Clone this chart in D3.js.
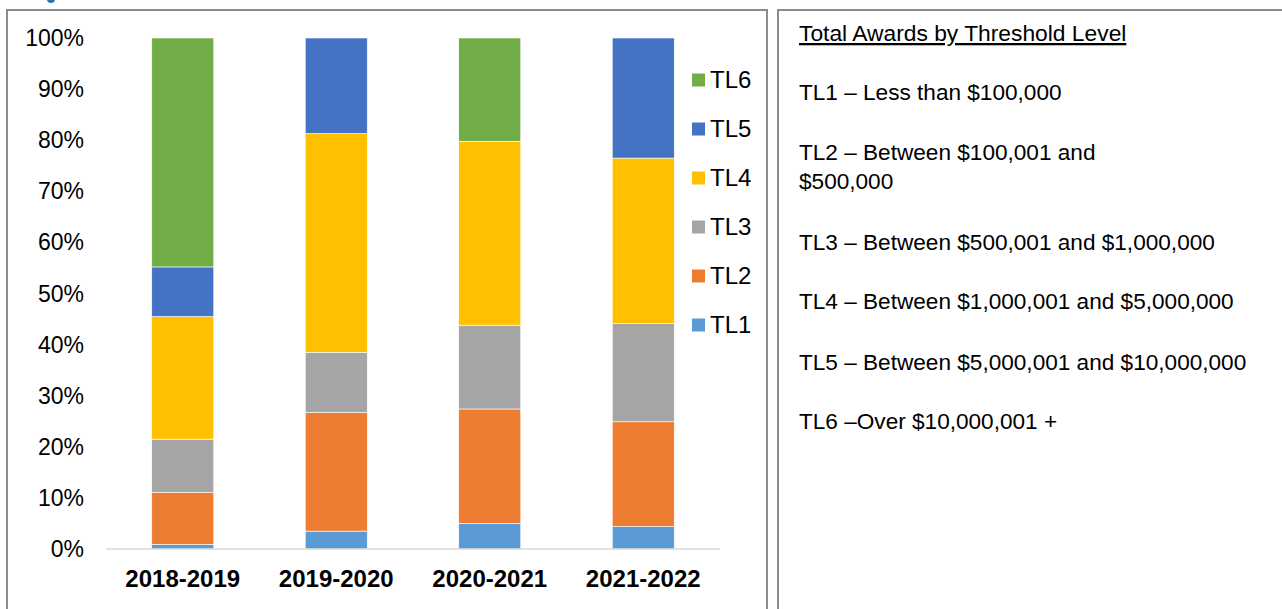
<!DOCTYPE html>
<html>
<head>
<meta charset="utf-8">
<script src="https://cdn.jsdelivr.net/npm/d3@7"></script>
<style>
  body { margin: 0; background: #fff; }
  svg { display: block; font-family: "Liberation Sans", Arial, sans-serif; }
</style>
</head>
<body>
<div id="chart"></div>
<script>
// Données (parts en %)
const years = ['2018-2019', '2019-2020', '2020-2021', '2021-2022'];
const levels = ['TL1', 'TL2', 'TL3', 'TL4', 'TL5', 'TL6'];
const tl1 = [0.9, 3.5, 5.0, 4.4];
const tl2 = [10.2, 23.2, 22.4, 20.5];
const tl3 = [10.4, 11.8, 16.4, 19.2];
const tl4 = [24.0, 42.8, 36.0, 32.4];
const tl5 = [9.7, 18.7, 0, 23.5];
const tl6 = [44.8, 0, 20.2, 0];
const yTicks = [0, 10, 20, 30, 40, 50, 60, 70, 80, 90, 100];
const colors = ['#5B9BD5', '#ED7D31', '#A5A5A5', '#FFC000', '#4472C4', '#70AD47'];
const notesTitle = 'Total Awards by Threshold Level';
const notes = [
  ['TL1 \u2013 Less than $100,000'],
  ['TL2 \u2013 Between $100,001 and', '$500,000'],
  ['TL3 \u2013 Between $500,001 and $1,000,000'],
  ['TL4 \u2013 Between $1,000,001 and $5,000,000'],
  ['TL5 \u2013 Between $5,000,001 and $10,000,000'],
  ['TL6 \u2013Over $10,000,001 +']
];

const width = 1282, height = 609;
const series = [tl1, tl2, tl3, tl4, tl5, tl6];

const rows = years.map((y, i) => {
  const r = { year: y };
  levels.forEach((l, k) => { r[l] = series[k][i]; });
  return r;
});

const svg = d3.select('#chart').append('svg')
  .attr('width', width)
  .attr('height', height);

// Cadres
svg.append('rect')
  .attr('x', 7).attr('y', 10).attr('width', 760).attr('height', 620)
  .attr('fill', 'none').attr('stroke', '#8c8c8c').attr('stroke-width', 2);
svg.append('rect')
  .attr('x', 778).attr('y', 10).attr('width', 520).attr('height', 620)
  .attr('fill', 'none').attr('stroke', '#8c8c8c').attr('stroke-width', 2);

// Reste du titre coupé en haut (jambage bleu)
svg.append('circle')
  .attr('cx', 51).attr('cy', -1).attr('r', 4)
  .attr('fill', '#2E74B5');

// Echelles
const x = d3.scaleBand()
  .domain(years)
  .range([106, 720])
  .paddingInner(0.596)
  .paddingOuter(0.298);

const y = d3.scaleLinear()
  .domain([0, 100])
  .range([549, 38]);

const stack = d3.stack().keys(levels);
const stacked = stack(rows);

const g = svg.append('g');

g.selectAll('g.layer')
  .data(stacked)
  .enter()
  .append('g')
  .attr('class', 'layer')
  .attr('fill', (d, i) => colors[i])
  .selectAll('rect')
  .data(d => d.filter(s => s[1] - s[0] > 0))
  .enter()
  .append('rect')
  .attr('x', d => x(d.data.year))
  .attr('y', d => y(d[1]))
  .attr('width', x.bandwidth())
  .attr('height', d => y(d[0]) - y(d[1]))
  .attr('stroke', '#fff')
  .attr('stroke-width', 0.6);

// Axe X
g.append('line')
  .attr('x1', 106).attr('x2', 720)
  .attr('y1', y(0)).attr('y2', y(0))
  .attr('stroke', '#d9d9d9').attr('stroke-width', 1.5);

g.selectAll('text.xlab')
  .data(years)
  .enter()
  .append('text')
  .attr('class', 'xlab')
  .attr('x', d => x(d) + x.bandwidth() / 2)
  .attr('y', 587)
  .attr('text-anchor', 'middle')
  .attr('font-size', '24px')
  .attr('font-weight', 'bold')
  .attr('fill', '#000')
  .text(d => d);

// Axe Y
g.selectAll('text.ylab')
  .data(yTicks)
  .enter()
  .append('text')
  .attr('class', 'ylab')
  .attr('x', 84)
  .attr('y', d => y(d))
  .attr('dy', '0.35em')
  .attr('text-anchor', 'end')
  .attr('font-size', '23px')
  .attr('fill', '#000')
  .text(d => d + '%');

// Légende (ordre inversé)
const legendLevels = levels.slice().reverse();
const legend = svg.append('g').attr('transform', 'translate(692, 80)');
legendLevels.forEach((l, i) => {
  const row = legend.append('g').attr('transform', `translate(0, ${i * 49})`);
  row.append('rect')
    .attr('x', 0).attr('y', -6.5)
    .attr('width', 13).attr('height', 13)
    .attr('fill', colors[levels.indexOf(l)]);
  row.append('text')
    .attr('x', 18).attr('y', 0)
    .attr('dy', '0.35em')
    .attr('font-size', '24px')
    .attr('fill', '#000')
    .text(l);
});

// Panneau de notes
const notesG = svg.append('g').attr('transform', 'translate(799, 0)');
notesG.append('text')
  .attr('x', 0).attr('y', 41)
  .attr('font-size', '22.8px')
  .attr('fill', '#000')
  .attr('text-decoration', 'underline')
  .text(notesTitle);

const baselines = [100, 160, 250, 309, 370, 429];
notes.forEach((lines, i) => {
  lines.forEach((t, j) => {
    notesG.append('text')
      .attr('x', 0)
      .attr('y', baselines[i] + j * 29)
      .attr('font-size', '22.6px')
      .attr('fill', '#000')
      .text(t);
  });
});
</script>
</body>
</html>
